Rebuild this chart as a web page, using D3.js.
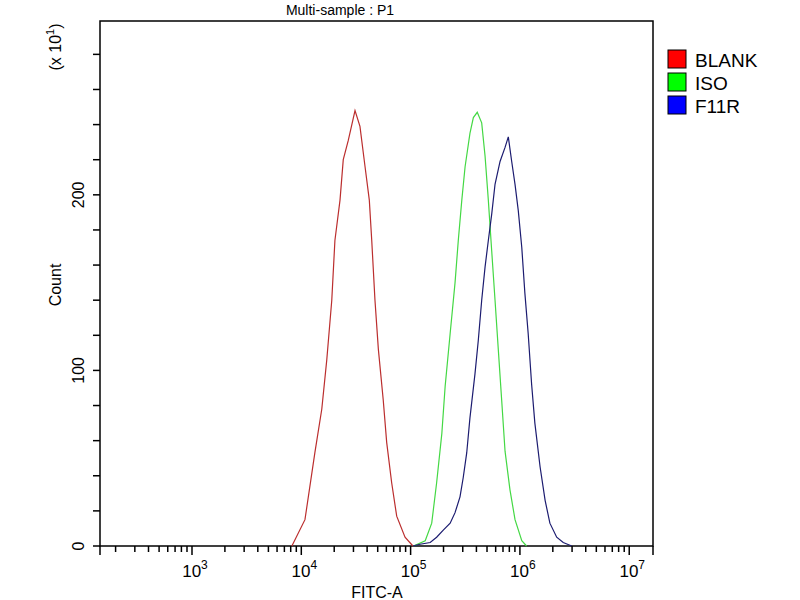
<!DOCTYPE html>
<html>
<head>
<meta charset="utf-8">
<script src="https://cdn.jsdelivr.net/npm/d3@7"></script>
<style>
  body { margin: 0; background: #fff; }
  svg { font-family: "Liberation Sans", Arial, sans-serif; }
</style>
</head>
<body>
<svg id="chart" width="800" height="600"></svg>
<script>
// FITC-A values and counts (x10)
const blankFitc = [8.2e3, 1.08e4, 1.33e4, 1.54e4, 1.71e4, 1.90e4, 2.03e4, 2.26e4, 2.42e4, 2.69e4, 3.10e4, 3.44e4, 3.83e4, 4.19e4, 4.41e4, 4.72e4, 5.07e4, 5.62e4, 6.04e4, 6.71e4, 7.46e4, 8.89e4, 1.05e5];
const blankCount = [0, 15, 53, 78, 106, 140, 174, 197, 220, 231, 248, 239, 216, 197, 174, 140, 112, 83, 59, 36, 17, 5, 0];

const isoFitc = [1.06e5, 1.36e5, 1.56e5, 1.73e5, 1.93e5, 2.07e5, 2.30e5, 2.55e5, 2.73e5, 2.94e5, 3.15e5, 3.49e5, 3.75e5, 4.07e5, 4.47e5, 4.80e5, 5.14e5, 5.52e5, 5.92e5, 6.34e5, 6.81e5, 7.31e5, 8.11e5, 9.02e5, 1.04e6, 1.15e6];
const isoCount = [0, 3, 13, 36, 64, 91, 121, 150, 174, 197, 216, 235, 244, 247, 241, 222, 197, 168, 140, 112, 83, 54, 32, 15, 3, 0];

const f11rFitc = [1.05e5, 1.22e5, 1.51e5, 1.73e5, 1.99e5, 2.30e5, 2.55e5, 2.83e5, 3.03e5, 3.26e5, 3.49e5, 3.88e5, 4.16e5, 4.47e5, 4.80e5, 5.14e5, 5.52e5, 5.92e5, 6.58e5, 7.31e5, 7.83e5, 8.41e5, 9.02e5, 9.66e5, 1.04e6, 1.11e6, 1.19e6, 1.28e6, 1.37e6, 1.53e6, 1.70e6, 1.88e6, 2.17e6, 2.49e6, 2.98e6];
const f11rCount = [0, 1, 2, 5, 9, 13, 19, 28, 39, 53, 73, 98, 117, 140, 159, 174, 189, 206, 219, 227, 233, 219, 206, 191, 170, 144, 121, 92, 70, 45, 26, 13, 5, 2, 0];

const seriesNames = ['BLANK', 'ISO', 'F11R'];
const lineColors = ['#bb2e2e', '#44d844', '#1c1c70'];
const swatchColors = ['#ff0000', '#00ff00', '#0000ff'];
const decades = [3, 4, 5, 6, 7];

const svg = d3.select('#chart');
const plotLeft = 100, plotRight = 653, plotTop = 21, plotBottom = 546;

const x = d3.scaleLog().domain([144, 1.65e7]).range([plotLeft, plotRight]);
const y = d3.scaleLinear().domain([0, 299]).range([plotBottom, plotTop]);

// plot frame
svg.append('rect')
  .attr('x', plotLeft).attr('y', plotTop)
  .attr('width', plotRight - plotLeft).attr('height', plotBottom - plotTop)
  .attr('fill', 'none').attr('stroke', '#000').attr('stroke-width', 1.5);

// histograms
const series = [
  { xs: blankFitc, ys: blankCount },
  { xs: isoFitc, ys: isoCount },
  { xs: f11rFitc, ys: f11rCount }
];

const line = d3.line()
  .x(d => x(d[0]))
  .y(d => y(d[1]))
  .curve(d3.curveLinear);

series.forEach((s, i) => {
  svg.append('path')
    .datum(d3.zip(s.xs, s.ys))
    .attr('fill', 'none')
    .attr('stroke', lineColors[i])
    .attr('stroke-width', 1.2)
    .attr('d', line);
});

// y axis ticks every 20, labels at 0/100/200
const yTicks = d3.range(0, 300, 20);
svg.selectAll('.ytick')
  .data(yTicks)
  .enter()
  .append('line')
  .attr('x1', plotLeft - 7).attr('x2', plotLeft)
  .attr('y1', d => y(d)).attr('y2', d => y(d))
  .attr('stroke', '#000').attr('stroke-width', 1.5);

svg.selectAll('.ylabel')
  .data([0, 100, 200])
  .enter()
  .append('text')
  .attr('transform', d => `translate(84, ${y(d)}) rotate(-90)`)
  .style('text-anchor', 'middle')
  .style('font-size', '16px')
  .text(d => d);

// x axis: decade and minor ticks
const minorTicks = [];
[2, 3, 4, 5, 6].forEach(e => {
  d3.range(2, 10).forEach(m => {
    const v = m * Math.pow(10, e);
    if (v > x.domain()[0] && v < x.domain()[1]) minorTicks.push(v);
  });
});

svg.selectAll('.xminor')
  .data(minorTicks)
  .enter()
  .append('line')
  .attr('x1', d => x(d)).attr('x2', d => x(d))
  .attr('y1', plotBottom).attr('y2', plotBottom + 6)
  .attr('stroke', '#000').attr('stroke-width', 1.5);

svg.selectAll('.xmajor')
  .data(decades)
  .enter()
  .append('line')
  .attr('x1', d => x(Math.pow(10, d))).attr('x2', d => x(Math.pow(10, d)))
  .attr('y1', plotBottom).attr('y2', plotBottom + 9)
  .attr('stroke', '#000').attr('stroke-width', 1.5);

// end ticks
[plotLeft, plotRight].forEach(px => {
  svg.append('line')
    .attr('x1', px).attr('x2', px)
    .attr('y1', plotBottom).attr('y2', plotBottom + 9)
    .attr('stroke', '#000').attr('stroke-width', 1.5);
});

const xLabels = svg.selectAll('.xlabel')
  .data(decades)
  .enter()
  .append('text')
  .attr('x', d => x(Math.pow(10, d)) + 3)
  .attr('y', 577)
  .style('text-anchor', 'middle')
  .style('font-size', '17px');
xLabels.append('tspan').text('10');
xLabels.append('tspan')
  .attr('dy', -8)
  .style('font-size', '12px')
  .text(d => d);

// titles
svg.append('text')
  .attr('x', 340).attr('y', 15)
  .style('text-anchor', 'middle')
  .style('font-size', '14px')
  .text('Multi-sample : P1');

svg.append('text')
  .attr('x', 377).attr('y', 598)
  .style('text-anchor', 'middle')
  .style('font-size', '16px')
  .text('FITC-A');

svg.append('text')
  .attr('transform', 'translate(61, 285) rotate(-90)')
  .style('text-anchor', 'middle')
  .style('font-size', '16px')
  .text('Count');

const mult = svg.append('text')
  .attr('transform', 'translate(61, 47) rotate(-90)')
  .style('text-anchor', 'middle')
  .style('font-size', '16px');
mult.append('tspan').text('(x 10');
mult.append('tspan').attr('dy', -7).style('font-size', '11px').text('1');
mult.append('tspan').attr('dy', 7).text(')');

// legend
const legend = svg.selectAll('.legend')
  .data(seriesNames)
  .enter()
  .append('g')
  .attr('class', 'legend')
  .attr('transform', (d, i) => `translate(668, ${50 + 23 * i})`);

legend.append('rect')
  .attr('width', 18)
  .attr('height', 18)
  .attr('stroke', '#000')
  .attr('stroke-width', 1)
  .style('fill', (d, i) => swatchColors[i]);

legend.append('text')
  .attr('x', 27)
  .attr('y', 17)
  .style('font-size', '19px')
  .text(d => d);
</script>
</body>
</html>
